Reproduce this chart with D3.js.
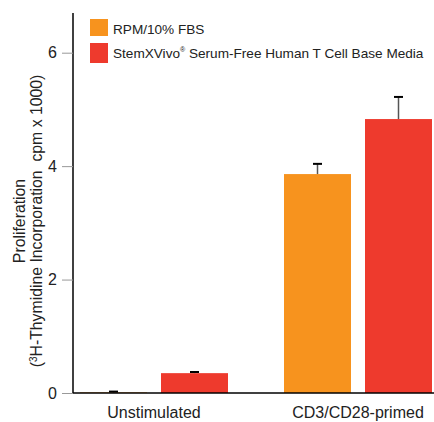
<!DOCTYPE html>
<html>
<head>
<meta charset="utf-8">
<script src="https://cdn.jsdelivr.net/npm/d3@7"></script>
<style>
  html, body { margin: 0; padding: 0; background: #fff; }
  svg { display: block; font-family: "Liberation Sans", Arial, sans-serif; }
</style>
</head>
<body>
<svg id="chart" width="434" height="422"></svg>
<script>
// Groups and series
const groups = ["Unstimulated", "CD3/CD28-primed"];
const seriesNames = ["RPM/10% FBS", "StemXVivo® Serum-Free Human T Cell Base Media"];
const seriesKeys = ["rpm", "stemx"];
const seriesColors = ["#F7931E", "#EE3A2D"];

// Mean proliferation (cpm x 1000) per group, one array per series
const rpmValues = [0.01, 3.86];
const stemxValues = [0.35, 4.83];
// Upper end of the error bars
const rpmErrTop = [0.025, 4.04];
const stemxErrTop = [0.37, 5.22];

const yTicks = [0, 2, 4, 6];

const svg = d3.select("#chart");
const textColor = "#222";

const y = d3.scaleLinear().domain([0, 6.7]).range([393, 13]);
const x0 = d3.scaleBand().domain(groups).range([80, 432]).paddingInner(56 / 204).paddingOuter(0);
const x1 = d3.scaleBand().domain(seriesKeys).range([0, x0.bandwidth()]).paddingInner(14 / 81);
const color = d3.scaleOrdinal().domain(seriesKeys).range(seriesColors);

const rows = groups.map((g, i) => ({
  group: g,
  bars: [
    { key: "rpm", value: rpmValues[i], err: rpmErrTop[i] },
    { key: "stemx", value: stemxValues[i], err: stemxErrTop[i] }
  ]
}));

// Bars
const gGroups = svg.append("g").selectAll("g").data(rows).join("g")
  .attr("transform", d => `translate(${x0(d.group)},0)`);

gGroups.selectAll("rect").data(d => d.bars).join("rect")
  .attr("x", d => x1(d.key))
  .attr("y", d => y(d.value))
  .attr("width", x1.bandwidth())
  .attr("height", d => y(0) - y(d.value))
  .attr("fill", d => color(d.key));

// Error bars (upper half only)
const err = gGroups.selectAll("g.err").data(d => d.bars).join("g").attr("class", "err");
err.append("line")
  .attr("x1", d => x1(d.key) + x1.bandwidth() / 2)
  .attr("x2", d => x1(d.key) + x1.bandwidth() / 2)
  .attr("y1", d => y(d.value))
  .attr("y2", d => y(d.err))
  .attr("stroke", "#555").attr("stroke-width", 1.5);
err.append("line")
  .attr("x1", d => x1(d.key) + x1.bandwidth() / 2 - 4.5)
  .attr("x2", d => x1(d.key) + x1.bandwidth() / 2 + 4.5)
  .attr("y1", d => y(d.err))
  .attr("y2", d => y(d.err))
  .attr("stroke", "#000").attr("stroke-width", 2);

// Y axis
const yAxis = svg.append("g").attr("transform", "translate(73,0)")
  .call(d3.axisLeft(y).tickValues(yTicks).tickSize(11).tickPadding(5).tickFormat(d3.format("d")));
yAxis.select(".domain").attr("stroke", "#000").attr("stroke-width", 1.5).attr("d", `M0,${y(0)}V${y(6.7)}`);
yAxis.selectAll(".tick line").attr("stroke", "#999").attr("stroke-width", 1);
yAxis.selectAll(".tick text").attr("fill", textColor).style("font-size", "16px")
  .style("font-family", "'Liberation Sans', Arial, sans-serif");

// X axis
const xAxis = svg.append("g").attr("transform", `translate(0,${y(0)})`)
  .call(d3.axisBottom(x0).tickSize(0).tickPadding(14));
xAxis.select(".domain").attr("stroke", "#000").attr("stroke-width", 1.5).attr("d", "M73,0H434");
xAxis.selectAll(".tick text").attr("fill", textColor).style("font-size", "16px")
  .style("font-family", "'Liberation Sans', Arial, sans-serif");

// Y axis title (two lines)
const yTitle = svg.append("text")
  .attr("transform", `translate(0,221) rotate(-90)`)
  .attr("text-anchor", "middle")
  .attr("fill", textColor)
  .style("font-size", "15.8px");
yTitle.append("tspan").attr("x", 0).attr("y", 25).text("Proliferation");
const l2 = yTitle.append("tspan").attr("x", 0).attr("y", 42).attr("xml:space", "preserve").style("white-space", "pre");
l2.append("tspan").text("(");
l2.append("tspan").attr("dy", -5).style("font-size", "10px").text("3");
l2.append("tspan").attr("dy", 5).text("H-Thymidine Incorporation  cpm x 1000)");

// Legend
const legend = svg.append("g");
const legendRects = [{ y: 19, h: 17 }, { y: 43, h: 20 }];
seriesKeys.forEach((k, i) => {
  legend.append("rect").attr("x", 90).attr("y", legendRects[i].y)
    .attr("width", 18).attr("height", legendRects[i].h).attr("fill", seriesColors[i]);
});
legend.append("text").attr("x", 113).attr("y", 34).attr("fill", textColor)
  .style("font-size", "13.6px").text(seriesNames[0]);
const t2 = legend.append("text").attr("x", 113).attr("y", 58).attr("fill", textColor).style("font-size", "13.6px");
t2.append("tspan").text("StemXVivo");
t2.append("tspan").attr("dy", -6).style("font-size", "7px").text("®");
t2.append("tspan").attr("dy", 6).text(" Serum-Free Human T Cell Base Media");
</script>
</body>
</html>
